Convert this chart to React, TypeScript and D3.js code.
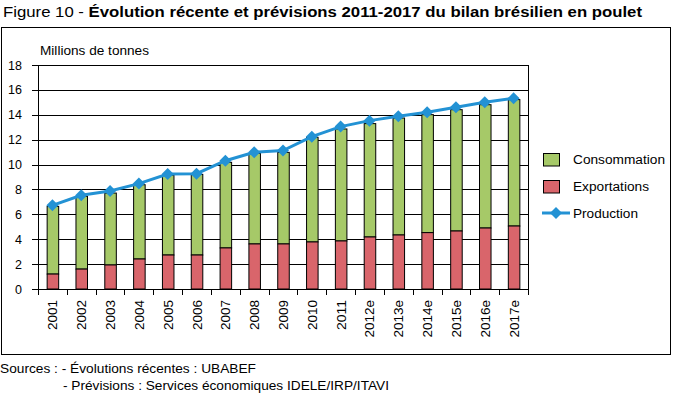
import React from "react";
import { scaleBand, scaleLinear, line, range } from "d3";

const categories = [
  "2001", "2002", "2003", "2004", "2005", "2006", "2007", "2008", "2009",
  "2010", "2011", "2012e", "2013e", "2014e", "2015e", "2016e", "2017e",
];
const exportations = [
  1.2, 1.6, 1.93, 2.41, 2.73, 2.73, 3.3, 3.62, 3.62, 3.78, 3.86, 4.18, 4.34,
  4.53, 4.66, 4.9, 5.06,
];
const consommation = [
  5.44, 5.85, 5.78, 5.97, 6.43, 6.48, 6.88, 7.28, 7.36, 8.41, 9.0, 9.11, 9.4,
  9.48, 9.75, 9.91, 10.16,
];
const production = [
  6.72, 7.53, 7.88, 8.47, 9.24, 9.27, 10.31, 10.98, 11.12, 12.24, 13.05,
  13.53, 13.88, 14.2, 14.6, 15.0, 15.32,
];
const yTicks = [0, 2, 4, 6, 8, 10, 12, 14, 16, 18];

const FONT = "'Liberation Sans', Arial, sans-serif";
const GREEN = "#a6c968";
const RED = "#d9656b";
const BLUE = "#2392d4";

export default function App() {
  const left = 38, right = 528, top = 65, bottom = 289;
  const x = scaleBand<string>()
    .domain(categories)
    .range([left, right])
    .paddingInner(0.6)
    .paddingOuter(0.3);
  const y = scaleLinear().domain([0, 18]).range([bottom, top]);
  const step = x.step();
  const bw = x.bandwidth();
  const cx = (c: string) => (x(c) ?? 0) + bw / 2;

  const prodLine = line<number>()
    .x((_, i) => cx(categories[i]))
    .y((d) => y(d));

  const diamond = (px: number, py: number, r: number) =>
    `M${px},${py - r}L${px + r},${py}L${px},${py + r}L${px - r},${py}Z`;

  // stretched text helper, the reference glyphs run wider than Liberation Sans
  const T = (props: any) => (
    <text lengthAdjust="spacingAndGlyphs" fill="#000" {...props} />
  );

  return (
    <svg
      width={674}
      height={393}
      style={{ position: "absolute", left: 0, top: 0, background: "#fff" }}
      fontFamily={FONT}
    >
      <T x={3} y={17} fontSize={14.5} textLength={639}>
        <tspan>Figure 10 - </tspan>
        <tspan fontWeight="bold">Évolution récente et prévisions 2011-2017 du bilan brésilien en poulet</tspan>
      </T>

      <rect x={1.5} y={27.5} width={669} height={327} fill="none" stroke="#000" strokeWidth={1} />

      <T x={40} y={55} fontSize={12.5} textLength={109}>Millions de tonnes</T>

      {/* gridlines + y axis ticks */}
      {yTicks.map((t) => (
        <g key={t}>
          <line x1={left} x2={right} y1={Math.round(y(t)) + 0.5} y2={Math.round(y(t)) + 0.5} stroke="#000" strokeWidth={1} />
          <line x1={left - 6} x2={left} y1={Math.round(y(t)) + 0.5} y2={Math.round(y(t)) + 0.5} stroke="#000" />
          <text x={22} y={y(t) + 4.5} fontSize={12.5} textAnchor="end" fill="#000">{t}</text>
        </g>
      ))}
      <line x1={left + 0.5} x2={left + 0.5} y1={top} y2={bottom} stroke="#000" />
      <line x1={right + 0.5} x2={right + 0.5} y1={top} y2={bottom} stroke="#000" />

      {/* x ticks */}
      {range(categories.length + 1).map((i) => {
        const xx = Math.round(left + i * step) + 0.5;
        return <line key={i} x1={xx} x2={xx} y1={bottom} y2={bottom + 6} stroke="#000" />;
      })}

      {/* bars */}
      {categories.map((c, i) => (
        <g key={c}>
          <rect
            x={(x(c) ?? 0) + 0.5}
            y={y(exportations[i] + consommation[i])}
            width={bw}
            height={y(exportations[i]) - y(exportations[i] + consommation[i])}
            fill={GREEN}
            stroke="#000"
            strokeWidth={1}
          />
          <rect
            x={(x(c) ?? 0) + 0.5}
            y={y(exportations[i])}
            width={bw}
            height={y(0) - y(exportations[i])}
            fill={RED}
            stroke="#000"
            strokeWidth={1}
          />
        </g>
      ))}

      {/* production line */}
      <path d={prodLine(production) ?? ""} fill="none" stroke={BLUE} strokeWidth={3} />
      {production.map((p, i) => (
        <path key={i} d={diamond(cx(categories[i]), y(p), 6)} fill={BLUE} />
      ))}

      {/* x labels */}
      {categories.map((c) => (
        <T
          key={c}
          transform={`translate(${cx(c) + 5},${300}) rotate(-90)`}
          fontSize={13}
          textAnchor="end"
          textLength={c.length > 4 ? 37.5 : 30}
        >
          {c}
        </T>
      ))}

      {/* legend */}
      <rect x={543.5} y={153.5} width={16} height={12.5} fill={GREEN} stroke="#000" />
      <T x={573} y={164} fontSize={12.5} textLength={92}>Consommation</T>
      <rect x={543.5} y={180.5} width={16} height={12.5} fill={RED} stroke="#000" />
      <T x={573} y={191} fontSize={12.5} textLength={76}>Exportations</T>
      <line x1={542} x2={570} y1={213} y2={213} stroke={BLUE} strokeWidth={3} />
      <path d={diamond(556, 213, 6)} fill={BLUE} />
      <T x={573} y={218} fontSize={12.5} textLength={65}>Production</T>

      {/* sources */}
      <T x={0} y={373} fontSize={12.5} textLength={256}>Sources : - Évolutions récentes : UBABEF</T>
      <T x={63} y={390} fontSize={12.5} textLength={326}>- Prévisions : Services économiques IDELE/IRP/ITAVI</T>
    </svg>
  );
}
